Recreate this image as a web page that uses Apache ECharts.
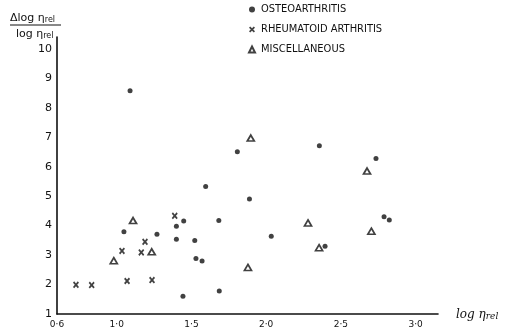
<!DOCTYPE html>
<html>
<head>
<meta charset="utf-8">
<script src="https://cdn.jsdelivr.net/npm/echarts@6/dist/echarts.min.js"></script>
<style>
html,body{margin:0;padding:0;background:#fff;}
#c{width:511px;height:334px;}
</style>
</head>
<body>
<div id="c"></div>
<script>
// ---- data ----
var seriesNames = ['OSTEOARTHRITIS', 'RHEUMATOID ARTHRITIS', 'MISCELLANEOUS'];

var osteoarthritis = [
  [1.089, 8.58], [1.048, 3.79], [1.269, 3.71], [1.399, 3.98], [1.399, 3.54],
  [1.448, 4.16], [1.443, 1.60], [1.595, 5.33], [1.888, 4.90], [1.683, 4.17],
  [2.034, 3.64], [1.522, 3.49], [1.530, 2.88], [1.571, 2.80], [1.686, 1.78],
  [1.807, 6.51], [2.356, 6.71], [2.735, 6.28], [2.789, 4.30], [2.824, 4.19],
  [2.394, 3.30]
];

var rheumatoidArthritis = [
  [0.727, 1.99], [0.832, 1.98], [1.035, 3.14], [1.069, 2.12],
  [1.189, 3.45], [1.164, 3.09], [1.236, 2.15], [1.388, 4.33]
];

var miscellaneous = [
  [0.980, 2.81], [1.109, 4.17], [1.234, 3.11], [1.897, 6.97], [1.878, 2.58],
  [2.280, 4.09], [2.354, 3.25], [2.675, 5.85], [2.704, 3.81]
];

var xTickValues = [0.6, 1.0, 1.5, 2.0, 2.5, 3.0];
var xTickLabels = ['0·6', '1·0', '1·5', '2·0', '2·5', '3·0'];
var yTickValues = [1, 2, 3, 4, 5, 6, 7, 8, 9, 10];
var yTickLabels = ['1', '2', '3', '4', '5', '6', '7', '8', '9', '10'];

// ---- chart ----
var chart = echarts.init(document.getElementById('c'), null, {renderer: 'canvas'});

function labelFor(values, labels, v) {
  for (var i = 0; i < values.length; i++) {
    if (Math.abs(values[i] - v) < 1e-6) return labels[i];
  }
  return '';
}

var crossPath = 'path://M0,2L2,0L5,3L8,0L10,2L7,5L10,8L8,10L5,7L2,10L0,8L3,5Z';
var ink = '#111';

var option = {
  animation: false,
  backgroundColor: '#fff',
  grid: {left: 57, right: 73, top: 37, bottom: 20, containLabel: false},
  legend: {
    orient: 'vertical',
    left: 248,
    top: 3,
    itemWidth: 6,
    itemHeight: 6,
    itemGap: 7,
    padding: 0,
    data: seriesNames,
    textStyle: {
      color: ink,
      fontSize: 11,
      lineHeight: 13,
      fontFamily: 'Liberation Sans Narrow, DejaVu Sans Condensed, Liberation Sans, sans-serif',
      padding: [0, 0, 0, 1]
    }
  },
  xAxis: {
    type: 'value',
    min: 0.6,
    max: 3.15,
    interval: 0.1,
    axisLine: {show: true, lineStyle: {color: ink, width: 1.6}},
    axisTick: {show: false},
    splitLine: {show: false},
    axisLabel: {
      color: ink,
      fontSize: 9,
      margin: 6,
      fontFamily: 'DejaVu Sans, sans-serif',
      showMinLabel: true,
      showMaxLabel: true,
      formatter: function (v) {
        var r = Math.round(v * 10) / 10;
        return Math.abs(r - v) < 1e-6 ? labelFor(xTickValues, xTickLabels, r) : '';
      }
    }
  },
  yAxis: {
    type: 'value',
    min: 1,
    max: 10.4,
    interval: 1,
    axisLine: {show: true, lineStyle: {color: ink, width: 1.6}},
    axisTick: {show: false},
    splitLine: {show: false},
    axisLabel: {
      color: ink,
      fontSize: 11,
      margin: 5,
      fontFamily: 'DejaVu Sans, sans-serif',
      formatter: function (v) {
        var r = Math.round(v);
        return Math.abs(r - v) < 1e-6 ? labelFor(yTickValues, yTickLabels, r) : '';
      }
    }
  },
  series: [
    {
      name: seriesNames[0],
      type: 'scatter',
      symbol: 'circle',
      symbolSize: 5,
      itemStyle: {color: ink},
      data: osteoarthritis
    },
    {
      name: seriesNames[1],
      type: 'scatter',
      symbol: crossPath,
      symbolSize: [6, 7],
      itemStyle: {color: ink},
      data: rheumatoidArthritis
    },
    {
      name: seriesNames[2],
      type: 'scatter',
      symbol: 'triangle',
      symbolSize: [7, 6],
      itemStyle: {color: '#fff', borderColor: ink, borderWidth: 1.7},
      data: miscellaneous
    }
  ],
  graphic: [
    {
      type: 'text',
      left: 10,
      top: 13,
      style: {
        text: '{a|Δlog η}{s|rel}',
        fill: ink,
        rich: {
          a: {fontSize: 11, fontFamily: 'DejaVu Sans, sans-serif', fill: ink},
          s: {fontSize: 8, fontFamily: 'DejaVu Sans, sans-serif', fill: ink, padding: [3, 0, 0, 0]}
        }
      }
    },
    {
      type: 'line',
      shape: {x1: 10, y1: 25, x2: 61, y2: 25},
      style: {stroke: ink, lineWidth: 1}
    },
    {
      type: 'text',
      left: 16,
      top: 29,
      style: {
        text: '{a|log η}{s|rel}',
        fill: ink,
        rich: {
          a: {fontSize: 11, fontFamily: 'DejaVu Sans, sans-serif', fill: ink},
          s: {fontSize: 8, fontFamily: 'DejaVu Sans, sans-serif', fill: ink, padding: [3, 0, 0, 0]}
        }
      }
    },
    {
      type: 'text',
      left: 456,
      top: 309,
      style: {
        text: '{a|log η}{s|rel}',
        fill: ink,
        rich: {
          a: {fontSize: 12, fontStyle: 'italic', fontFamily: 'DejaVu Serif, serif', fill: ink},
          s: {fontSize: 9, fontStyle: 'italic', fontFamily: 'DejaVu Serif, serif', fill: ink, padding: [4, 0, 0, 0]}
        }
      }
    }
  ]
};

chart.setOption(option);
</script>
</body>
</html>
